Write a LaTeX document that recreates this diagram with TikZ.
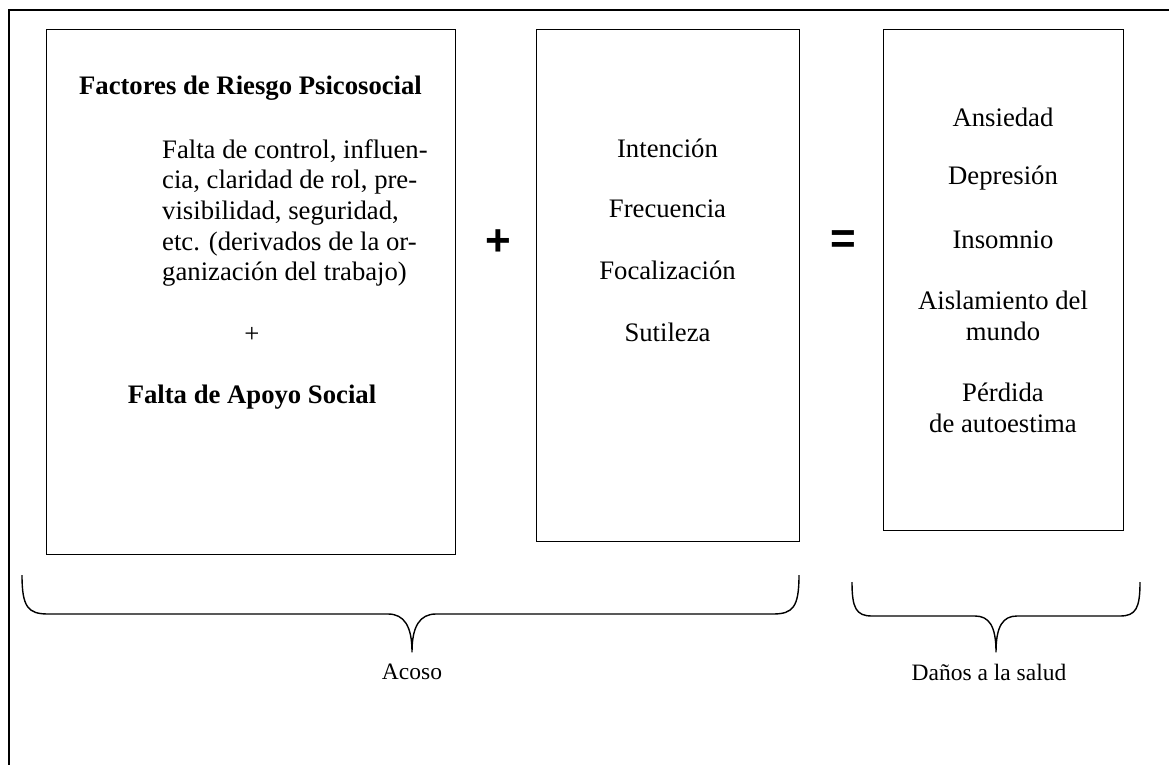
\documentclass[tikz,border=0pt]{standalone}
\usepackage{fontspec}
\setmainfont{Liberation Serif}
\newfontfamily\signos{Liberation Sans}
\usetikzlibrary{positioning}

\begin{document}
\begin{tikzpicture}[x=1pt, y=-1pt,
    caja/.style={rectangle, draw, line width=1.4pt, anchor=north west, inner sep=0pt},
    texto/.style={font=\fontsize{26.7}{30.7}\selectfont, inner sep=0pt, align=center},
    titulo/.style={font=\fontsize{26.7}{30.7}\selectfont\bfseries, inner sep=0pt},
    signo/.style={font=\signos\fontsize{44}{44}\selectfont\bfseries, inner sep=0pt},
    llave/.style={line width=1.4pt, line join=round},
    rotulo/.style={font=\fontsize{23.5}{26}\selectfont, inner sep=0pt}
]
\useasboundingbox (0,0) rectangle (1169,765);
% Marco exterior (solo se ven dos lados)
\draw[line width=1.8pt] (1169,10) -- (9,10) -- (9,765);

% Cajas
\node[caja, minimum width=409, minimum height=525] (riesgo) at (46,29) {};
\node[caja, minimum width=263, minimum height=512] (conducta) at (536,29) {};
\node[caja, minimum width=240, minimum height=501] (danos) at (883,29) {};

% Factores de riesgo
\node[titulo] (factores) at (250.5,88) {Factores de Riesgo Psicosocial};
\node[texto, align=left, anchor=west] (detalle) at (162,213) {Falta de control, influen-\\cia, claridad de rol, pre-\\visibilidad, seguridad,\\etc. (derivados de la or-\\ganización del trabajo)};
\node[texto] (mas) at (252,335) {+};
\node[titulo] (apoyo) at (252,397) {Falta de Apoyo Social};

% Signos entre cajas
\node[signo] (suma) at (498,243) {+};
\node[signo] (igual) at (843,242) {=};

% Conducta
\foreach \txt/\yy [count=\i] in {Intención/148, Frecuencia/209, Focalización/270, Sutileza/332}
    \node[texto] (c\i) at (667.5,\yy) {\txt};

% Danos
\foreach \txt/\yy [count=\i] in {Ansiedad/117, Depresión/178, Insomnio/240, Aislamiento del\\mundo/316, Pérdida\\de autoestima/408}
    \node[texto] (d\i) at (1003,\yy) {\txt};

% Llaves
\coordinate (puntaA) at (412,652);
\coordinate (puntaB) at (996,652);
\draw[llave] (22,575) .. controls (22,607) and (28,614) .. (48,614) -- (388,614)
    .. controls (404,614) and (412,626) .. (puntaA)
    .. controls (412,626) and (420,614) .. (436,614) -- (773,614)
    .. controls (793,614) and (799,607) .. (799,575);
\draw[llave] (852,582) .. controls (852,608) and (856,616) .. (872,616) -- (975,616)
    .. controls (989,616) and (996,626) .. (puntaB)
    .. controls (996,626) and (1003,616) .. (1017,616) -- (1120,616)
    .. controls (1136,616) and (1140,608) .. (1140,582);
\node[rotulo, below=12pt of puntaA] (acoso) {Acoso};
\node[rotulo, below=12pt of puntaB, xshift=-7pt] (salud) {Daños a la salud};
\end{tikzpicture}
\end{document}
